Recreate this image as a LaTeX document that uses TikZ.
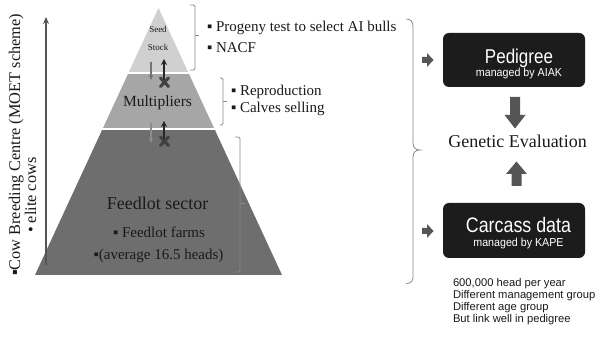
\documentclass[tikz,border=0pt]{standalone}
\usepackage{fontspec}
\setmainfont{Liberation Serif}
\newfontfamily\condsans[FakeStretch=0.85]{Liberation Sans}
\newfontfamily\semisans[FakeStretch=0.92]{Liberation Sans}
\newfontfamily\plainsans{Liberation Sans}
\usetikzlibrary{arrows.meta}
\definecolor{tierA}{HTML}{D0D0D0}
\definecolor{tierB}{HTML}{A6A6A6}
\definecolor{tierC}{HTML}{6E6E6E}
\definecolor{boxfill}{HTML}{1C1C1C}
\definecolor{arrowgray}{HTML}{555555}
\definecolor{bracegray}{HTML}{8A8A8A}
\definecolor{txt}{HTML}{1A1A1A}
\begin{document}
\begin{tikzpicture}[x=1pt,y=-1pt,
  txtnode/.style={inner sep=0pt, outer sep=0pt, text=txt},
  darkbox/.style={fill=boxfill, rounded corners=6pt, draw=none},
  bracket/.style={draw=bracegray, line width=0.8pt},
  blockarrow/.style={fill=arrowgray, draw=none},
  downarr/.style={-{Stealth[length=5pt,width=4.5pt]}, line width=1.1pt},
  uparr/.style={-{Stealth[length=6pt,width=6pt]}, line width=1.3pt, draw=black!85},
  xmark/.style={line width=3pt, draw=black!75, line cap=round},
  notetext/.style={txtnode, anchor=base west, font=\plainsans\fontsize{11.2}{12}\selectfont}
]
\useasboundingbox (0,0) rectangle (595,344);
\fill[white] (0,0) rectangle (595,344);

% pyramid
\coordinate (apex) at (158.5,8);
\coordinate (bl) at (35,275);
\coordinate (br) at (282,275);
\begin{scope}
  \clip (apex) -- (br) -- (bl) -- cycle;
  \fill[tierA] (0,0) rectangle (300,72);
  \fill[tierB] (0,74) rectangle (300,128.5);
  \fill[tierC] (0,130.5) rectangle (300,276);
\end{scope}

% tier texts
\node[txtnode, anchor=base, font=\fontsize{9}{9}\selectfont] (seed) at (158,33) {Seed};
\node[txtnode, anchor=base, font=\fontsize{9}{9}\selectfont] (stock) at (158,50.5) {Stock};
\node[txtnode, anchor=base, font=\fontsize{15.5}{15.5}\selectfont] (mult) at (157.5,107) {Multipliers};
\node[txtnode, anchor=base, font=\fontsize{18}{18}\selectfont] (feed) at (157.5,210) {Feedlot sector};
\node[txtnode, anchor=base, font=\fontsize{15}{15}\selectfont] (farms) at (159,238) {▪ Feedlot farms};
\node[txtnode, anchor=base, font=\fontsize{15}{15}\selectfont] (avg) at (158.5,260) {▪(average 16.5 heads)};

% flows between tiers
\coordinate (d1a) at (151,62);  \coordinate (d1b) at (151,80);
\coordinate (u1a) at (164,80);  \coordinate (u1b) at (164,59);
\coordinate (d2a) at (151,123); \coordinate (d2b) at (151,143);
\coordinate (u2a) at (164,140); \coordinate (u2b) at (164,121);
\draw[downarr, draw=black!55] (d1a) -- (d1b);
\draw[uparr] (u1a) -- (u1b);
\draw[xmark] (160.5,78) -- (168.5,86.5) (168.5,78) -- (160.5,86.5);
\draw[downarr, draw=black!45] (d2a) -- (d2b);
\draw[uparr] (u2a) -- (u2b);
\draw[xmark] (160.5,137) -- (168.5,145.5) (168.5,137) -- (160.5,145.5);

% left vertical arrow and labels
\coordinate (va) at (46,265);
\coordinate (vb) at (46,17);
\draw[-{Stealth[length=7pt,width=6pt]}, line width=1.4pt, draw=arrowgray] (va) -- (vb);
\node[txtnode, rotate=90, anchor=base west, font=\fontsize{16.3}{16.3}\selectfont] (cbc) at (20,276) {▪Cow Breeding Centre (MOET scheme)};
\node[txtnode, rotate=90, anchor=base west, font=\fontsize{16.3}{16.3}\selectfont] (elite) at (36,233) {• elite cows};

% brackets next to tiers
\draw[bracket, rounded corners=1.5pt] (190,5) -- (195,5) -- (195,70) -- (190,70);
\draw[bracket] (195,35) -- (198.5,35);
\draw[bracket, rounded corners=1.5pt] (220,78) -- (223,78) -- (223,125) -- (220,125);
\draw[bracket] (223,101) -- (226.5,101);
\draw[bracket, rounded corners=1.5pt] (235,137) -- (240,137) -- (240,272) -- (235,272);
\draw[bracket] (240,203) -- (245,203);

% bullet texts
\node[txtnode, anchor=base west, font=\fontsize{15}{15}\selectfont] (prog) at (207,32) {▪ Progeny test to select AI bulls};
\node[txtnode, anchor=base west, font=\fontsize{15}{15}\selectfont] (nacf) at (207,53) {▪ NACF};
\node[txtnode, anchor=base west, font=\fontsize{15}{15}\selectfont] (repro) at (231,96) {▪ Reproduction};
\node[txtnode, anchor=base west, font=\fontsize{15}{15}\selectfont] (calves) at (231,113) {▪ Calves selling};

% big brace
\draw[bracket] (406,19) .. controls (411,19) and (413,22) .. (413,27) -- (413,143)
  .. controls (413,148) and (416,150) .. (420,150)
  .. controls (416,150) and (413,152) .. (413,157) -- (413,277)
  .. controls (413,281) and (411,283.5) .. (406,283.5);

% small block arrows
\fill[blockarrow] (422,57) -- (427,57) -- (427,53) -- (433.5,60) -- (427,67) -- (427,63) -- (422,63) -- cycle;
\fill[blockarrow] (422,228) -- (427,228) -- (427,224) -- (433.5,231) -- (427,238) -- (427,234) -- (422,234) -- cycle;

% boxes
\node[darkbox, minimum width=142pt, minimum height=54pt, inner sep=0pt] (ped) at (514,60) {};
\node[txtnode, text=white, anchor=base, font=\condsans\fontsize{20}{20}\selectfont] (pedt) at (519,63.5) {Pedigree};
\node[txtnode, text=white, anchor=base, font=\semisans\fontsize{11.6}{11.6}\selectfont] (peds) at (519,77) {managed by AIAK};

\node[darkbox, minimum width=142pt, minimum height=55pt, inner sep=0pt] (carc) at (514,230.5) {};
\node[txtnode, text=white, anchor=base, font=\condsans\fontsize{21}{21}\selectfont] (carct) at (518.5,233) {Carcass data};
\node[txtnode, text=white, anchor=base, font=\semisans\fontsize{11.6}{11.6}\selectfont] (carcs) at (518.5,247) {managed by KAPE};

% genetic evaluation
\node[txtnode, anchor=base, font=\fontsize{18}{18}\selectfont] (gen) at (517.5,148) {Genetic Evaluation};

% big block arrows
\fill[blockarrow] (510,97) -- (520,97) -- (520,115) -- (525.5,115) -- (515,128.5) -- (504.5,115) -- (510,115) -- cycle;
\fill[blockarrow] (511.5,186) -- (521.5,186) -- (521.5,174) -- (527,174) -- (516.5,161.5) -- (506,174) -- (511.5,174) -- cycle;

% notes
\node[notetext] (n1) at (453,286.5) {600,000 head per year};
\node[notetext] (n2) at (453,298.5) {Different management group};
\node[notetext] (n3) at (453,310.5) {Different age group};
\node[notetext] (n4) at (453,322.5) {But link well in pedigree};
\end{tikzpicture}
\end{document}
